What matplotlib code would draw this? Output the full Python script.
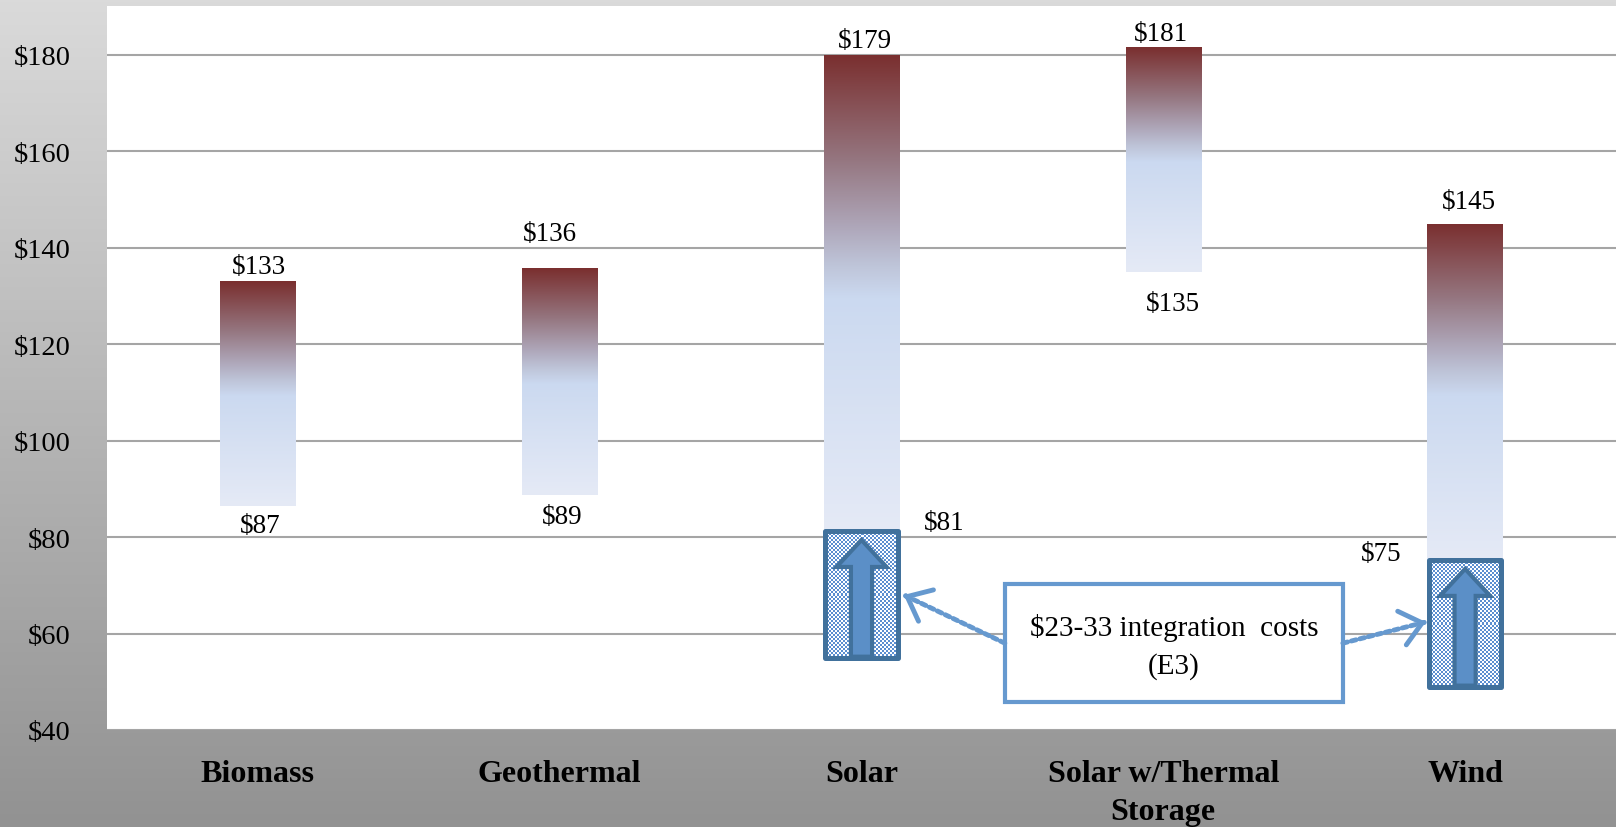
import matplotlib
matplotlib.use("Agg")
import matplotlib.pyplot as plt
import numpy as np
from matplotlib.colors import LinearSegmentedColormap, ListedColormap
from matplotlib.patches import Rectangle, Polygon

plt.rcParams['font.family'] = ['Liberation Serif', 'DejaVu Serif']

# DATA
categories = ["Biomass", "Geothermal", "Solar", "Solar w/Thermal\nStorage", "Wind"]
low = [86.5, 88.8, 81.0, 134.9, 75.0]
high = [133.0, 135.8, 180.0, 181.5, 145.0]
low_labels = ["$87", "$89", "$81", "$135", "$75"]
high_labels = ["$133", "$136", "$179", "$181", "$145"]

# integration cost boxes (Solar, Wind)
integ_idx = [2, 4]
integ_top = [81.2, 75.2]
integ_height = 26.3
note = "$23-33 integration  costs\n(E3)"

yticks = [40, 60, 80, 100, 120, 140, 160, 180]

# label offsets in pixels (dx, dy)
high_off = [(1, 15), (-10, 34), (3, 14), (-2, 14), (4, 22)]
low_off = [(2, -20), (2, -22), (83, 10), (10, -31), (-84, 8)]

# COLORS
bar_cmap = LinearSegmentedColormap.from_list(
    "bar",
    [(0.0, "#E5EAF6"), (0.49, "#CBD9F0"), (0.56, "#BEC4D8"),
     (0.63, "#B0AABD"), (0.78, "#957680"), (1.0, "#7A2F2F")]
)
bg_cmap = LinearSegmentedColormap.from_list("bg", ["#929292", "#DADADA"])
check_cmap = ListedColormap(["#FFFFFF", "#5B8ED0"])
dark_blue = "#41719C"
arrow_blue = "#5B8FC7"
note_blue = "#6699CF"

fig = plt.figure(figsize=(16.16, 8.28), dpi=100)

# BACKGROUND
bg = fig.add_axes([0, 0, 1, 1], zorder=0)
bg.imshow(np.linspace(0, 1, 256).reshape(-1, 1), cmap=bg_cmap,
          aspect="auto", origin="lower", extent=[0, 1, 0, 1])
bg.axis("off")

ax = fig.add_axes([107 / 1616, 1 - 731 / 828, 1 - 107 / 1616, 724 / 828], zorder=1)
ax.set_facecolor("white")

# BARS
grad = np.linspace(0, 1, 256).reshape(-1, 1)
bar_w = 0.25
for i in range(len(categories)):
    b = ax.bar(i, high[i] - low[i], bottom=low[i], width=bar_w,
               color="none", zorder=2)[0]
    im = ax.imshow(grad, cmap=bar_cmap, aspect="auto", origin="lower",
                   extent=[i - bar_w / 2, i + bar_w / 2, low[i], high[i]],
                   zorder=2)
    im.set_clip_path(b)

    ax.annotate(high_labels[i], xy=(i, high[i]), xytext=high_off[i],
                textcoords="offset pixels", ha="center", va="center",
                fontsize=19.5, zorder=8)
    ax.annotate(low_labels[i], xy=(i, low[i]), xytext=low_off[i],
                textcoords="offset pixels", ha="center", va="center",
                fontsize=19.5, zorder=8)

# INTEGRATION BOXES
box_w = 0.24
for k, i in enumerate(integ_idx):
    x0 = i - box_w / 2
    y0 = integ_top[k] - integ_height
    rows = int(integ_height * 4.824 / 2)
    cols = int(box_w * 301.8 / 2)
    checker = np.add.outer(np.arange(rows), np.arange(cols)) % 2
    ax.imshow(checker, cmap=check_cmap, interpolation="nearest",
              aspect="auto", extent=[x0, x0 + box_w, y0, integ_top[k]],
              zorder=3)
    ax.add_patch(Rectangle((x0, y0), box_w, integ_height, fill=False,
                           edgecolor=dark_blue, lw=3.6, joinstyle="round",
                           zorder=5))
    tip = integ_top[k] - 1.8
    base = tip - 5.6
    bottom = y0 + 0.3
    sw, hw = 0.035, 0.083
    ax.add_patch(Polygon([(i - sw, bottom), (i - sw, base), (i - hw, base),
                          (i, tip), (i + hw, base), (i + sw, base),
                          (i + sw, bottom)], closed=True,
                         facecolor=arrow_blue, edgecolor=dark_blue, lw=3,
                         zorder=4))

# NOTE BOX
nx0, nx1, ny0, ny1 = 2.475, 3.595, 45.8, 70.3
ax.add_patch(Rectangle((nx0, ny0), nx1 - nx0, ny1 - ny0, facecolor="white",
                       edgecolor=note_blue, lw=3, zorder=6))
ax.text((nx0 + nx1) / 2, 57.4, note, ha="center", va="center",
        fontsize=21, linespacing=1.5, zorder=7)

# DOTTED ARROWS
arrows = [((nx0, 58.0), (2.14, 68.0)), ((nx1, 58.0), (3.87, 62.4))]
for start, end in arrows:
    ax.annotate("", xy=end, xytext=start,
                arrowprops=dict(arrowstyle="-", linestyle=(0, (1, 0.8)),
                                lw=3.5, color=note_blue,
                                shrinkA=0, shrinkB=0), zorder=7)
    near = (end[0] - 0.02 * (end[0] - start[0]),
            end[1] - 0.02 * (end[1] - start[1]))
    ax.annotate("", xy=end, xytext=near,
                arrowprops=dict(arrowstyle="->,head_length=0.6,head_width=0.5",
                                lw=3.5, color=note_blue, mutation_scale=25,
                                shrinkA=0, shrinkB=0), zorder=7)

# LIMITS
ax.set_xlim(-0.5, 4.5)
ax.set_ylim(40, 190.1)

# GRID
ax.set_yticks(yticks)
ax.yaxis.grid(True, color="#A5A5A5", lw=1.5)
ax.set_axisbelow(True)

# TICKS
ax.set_yticklabels([f"${v}" for v in yticks], fontsize=20.5)
ax.set_xticks(range(len(categories)))
ax.set_xticklabels(categories, fontsize=23, fontweight="bold",
                   linespacing=1.4)
ax.tick_params(axis="y", length=0, pad=26)
ax.tick_params(axis="x", length=0, pad=21)

for s in ax.spines.values():
    s.set_visible(False)

fig.savefig("out.png", dpi=100)
